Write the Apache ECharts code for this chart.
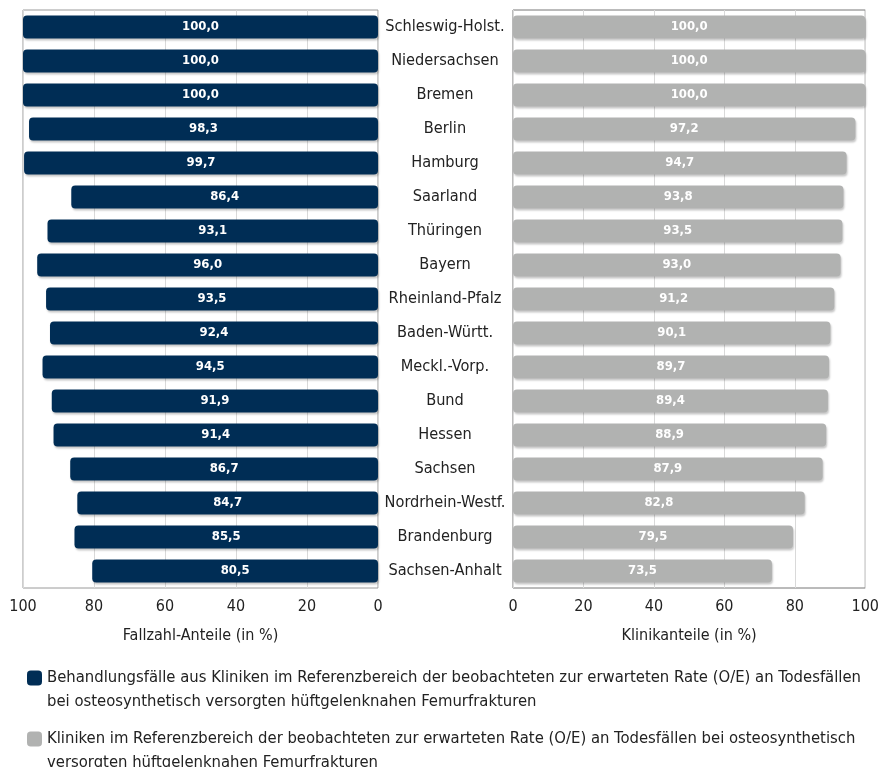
<!DOCTYPE html>
<html>
<head>
<meta charset="utf-8">
<script src="https://cdn.jsdelivr.net/npm/echarts@6/dist/echarts.min.js"></script>
<style>html,body{margin:0;padding:0;background:#fff}#c{width:882px;height:767px}</style>
</head>
<body>
<div id="c"></div>
<script>
var categories = ['Schleswig-Holst.', 'Niedersachsen', 'Bremen', 'Berlin', 'Hamburg', 'Saarland', 'Thüringen', 'Bayern', 'Rheinland-Pfalz', 'Baden-Württ.', 'Meckl.-Vorp.', 'Bund', 'Hessen', 'Sachsen', 'Nordrhein-Westf.', 'Brandenburg', 'Sachsen-Anhalt'];
var fallzahlAnteile = [100.0, 100.0, 100.0, 98.3, 99.7, 86.4, 93.1, 96.0, 93.5, 92.4, 94.5, 91.9, 91.4, 86.7, 84.7, 85.5, 80.5];
var klinikAnteile = [100.0, 100.0, 100.0, 97.2, 94.7, 93.8, 93.5, 93.0, 91.2, 90.1, 89.7, 89.4, 88.9, 87.9, 82.8, 79.5, 73.5];
var axisTicks = [0, 20, 40, 60, 80, 100];
var seriesNames = [
  'Behandlungsfälle aus Kliniken im Referenzbereich der beobachteten zur erwarteten Rate (O/E) an Todesfällen\nbei osteosynthetisch versorgten hüftgelenknahen Femurfrakturen',
  'Kliniken im Referenzbereich der beobachteten zur erwarteten Rate (O/E) an Todesfällen bei osteosynthetisch\nversorgten hüftgelenknahen Femurfrakturen'
];
var axisTitles = ['Fallzahl-Anteile (in %)', 'Klinikanteile (in %)'];

var FONT = "'Liberation Sans Narrow', 'DejaVu Sans Condensed', sans-serif";
var NAVY = '#002d55', GREY = '#b1b2b1';
function fmt(v){ return v.toFixed(1).replace('.', ','); }

var chart = echarts.init(document.getElementById('c'));
function xAx(gi, inverse, name){
  return {
    type: 'value', gridIndex: gi, min: axisTicks[0], max: axisTicks[axisTicks.length-1], interval: 20, inverse: inverse,
    name: name, nameLocation: 'middle', nameGap: 40,
    nameTextStyle: {fontFamily: FONT, fontSize: 16, color: '#222'},
    axisLine: {show: false}, axisTick: {show: false},
    axisLabel: {fontFamily: FONT, fontSize: 16, color: '#222', margin: 11},
    splitLine: {show: true, lineStyle: {color: '#d9d9d9', width: 1}}
  };
}
function legendFor(name, top){
  return {data: [name], orient: 'vertical', left: 27, top: top, padding: 0, itemWidth: 15, itemHeight: 15, icon: 'roundRect',
    selectedMode: false,
    formatter: function(n){ return '\n' + n; },
    textStyle: {fontFamily: FONT, fontSize: 16.5, color: '#222', lineHeight: 24}};
}
var itemShadow = {shadowColor: 'rgba(0,0,0,0.22)', shadowBlur: 2, shadowOffsetX: 1, shadowOffsetY: 2};
chart.setOption({
  animation: false,
  textStyle: {fontFamily: FONT},
  grid: [
    {left: 23, right: 504, top: 10, height: 578, show: true, borderColor: '#9a9a9a', borderWidth: 1, backgroundColor: 'transparent'},
    {left: 513, right: 15, top: 10, height: 578, show: true, borderColor: '#777', borderWidth: 1, backgroundColor: 'transparent'}
  ],
  xAxis: [xAx(0, true, axisTitles[0]), xAx(1, false, axisTitles[1])],
  yAxis: [
    {type: 'category', gridIndex: 0, data: categories, inverse: true, axisLine: {show: false}, axisTick: {show: false}, axisLabel: {show: false}},
    {type: 'category', gridIndex: 1, data: categories, inverse: true, axisLine: {show: false}, axisTick: {show: false},
     axisLabel: {show: true, align: 'center', margin: 68, fontFamily: FONT, fontSize: 16.2, color: '#222'}}
  ],
  legend: [legendFor(seriesNames[0], 642), legendFor(seriesNames[1], 703)],
  series: [
    {name: seriesNames[0], type: 'bar', xAxisIndex: 0, yAxisIndex: 0, data: fallzahlAnteile, barCategoryGap: '32%',
     itemStyle: Object.assign({color: NAVY, borderRadius: 4}, itemShadow),
     label: {show: true, position: 'inside', color: '#fff', fontWeight: 'bold', fontSize: 13, fontFamily: FONT, formatter: function(p){return fmt(p.value);}}},
    {name: seriesNames[1], type: 'bar', xAxisIndex: 1, yAxisIndex: 1, data: klinikAnteile, barCategoryGap: '32%',
     itemStyle: Object.assign({color: GREY, borderRadius: 4}, itemShadow),
     label: {show: true, position: 'inside', color: '#fff', fontWeight: 'bold', fontSize: 13, fontFamily: FONT, formatter: function(p){return fmt(p.value);}}}
  ]
});
</script>
</body>
</html>
